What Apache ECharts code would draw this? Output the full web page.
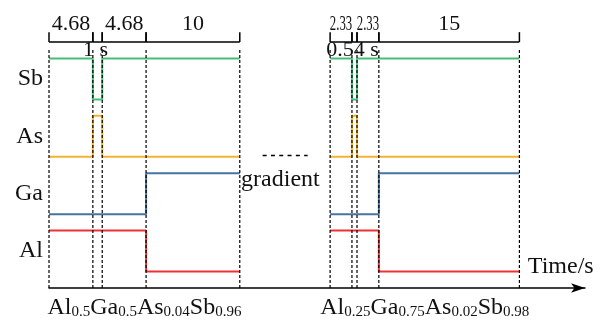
<!DOCTYPE html>
<html>
<head>
<meta charset="utf-8">
<script src="https://cdn.jsdelivr.net/npm/echarts@6/dist/echarts.min.js"></script>
<style>
  html, body { margin: 0; padding: 0; background: #fff; }
  #chart { width: 603px; height: 321px; }
</style>
</head>
<body>
<div id="chart"></div>
<script>
// segment durations (s) of the two growth sequences
const leftDurations = [4.68, 1, 4.68, 10];
const rightDurations = [2.33, 0.54, 2.33, 15];
const sectionStarts = [0, 30];

// shutter state per segment, 1 = open
const channels = ['Al', 'Ga', 'As', 'Sb'];
const alStates = [1, 1, 1, 0];
const gaStates = [0, 0, 0, 1];
const asStates = [0, 1, 0, 0];
const sbStates = [1, 0, 1, 1];

// layer names under each sequence: element, fraction, element, fraction ...
const leftLayer = ['Al', '0.5', 'Ga', '0.5', 'As', '0.04', 'Sb', '0.96'];
const rightLayer = ['Al', '0.25', 'Ga', '0.75', 'As', '0.02', 'Sb', '0.98'];

const gapText = 'gradient';
const axisName = 'Time/s';

// ---- layout / style ----
const FONT = 'Liberation Serif';
const colors = { Al: '#ec3234', Ga: '#46739f', As: '#f4b433', Sb: '#45bd74' };
const stateLists = { Al: alStates, Ga: gaStates, As: asStates, Sb: sbStates };
const levelBase = 0.4, levelStep = 1.4; // y units per channel
const bracketY = 6.0;
const dashTop = 5.85;

function bounds(start, durs) {
  const b = [start];
  durs.forEach(d => b.push(+(b[b.length - 1] + d).toFixed(2)));
  return b;
}
const sections = [
  { durs: leftDurations, b: bounds(sectionStarts[0], leftDurations), layer: leftLayer },
  { durs: rightDurations, b: bounds(sectionStarts[1], rightDurations), layer: rightLayer }
];
const sectionMids = sections.map(s => (s.b[0] + s.b[s.b.length - 1]) / 2);

let chart = echarts.init(document.getElementById('chart'));

const series = [];
// shutter lines
channels.forEach((ch, i) => {
  const base = levelBase + i * levelStep;
  sections.forEach(sec => {
    const st = stateLists[ch];
    const data = st.map((v, k) => [sec.b[k], base + v]);
    data.push([sec.b[sec.b.length - 1], base + st[st.length - 1]]);
    series.push({
      type: 'line',
      step: 'end',
      data: data,
      showSymbol: false,
      silent: true,
      lineStyle: { color: colors[ch], width: 2 },
      z: 2
    });
  });
});

// dashed boundaries
const boundaryData = [];
sections.forEach(sec => sec.b.forEach(x => boundaryData.push([x])));
series.push({
  type: 'custom',
  data: boundaryData,
  silent: true,
  z: 5,
  renderItem: (params, api) => {
    const p0 = api.coord([api.value(0), 0]);
    const p1 = api.coord([api.value(0), dashTop]);
    return {
      type: 'line',
      shape: { x1: p0[0], y1: p0[1], x2: p1[0], y2: p1[1] },
      style: { stroke: '#000', lineWidth: 1.2, lineDash: [3, 2] }
    };
  }
});

// duration brackets on top
const bracketData = [];
sections.forEach(sec => {
  const shortest = Math.min(...sec.durs);
  sec.durs.forEach((d, k) => bracketData.push([sec.b[k], sec.b[k + 1], d, d === shortest ? 1 : 0]));
});
series.push({
  type: 'custom',
  data: bracketData,
  silent: true,
  z: 6,
  renderItem: (params, api) => {
    const a = api.coord([api.value(0), bracketY]);
    const b = api.coord([api.value(1), bracketY]);
    const tickTop = api.coord([0, bracketY + 0.24])[1];
    const pulse = api.value(3) === 1;
    const w = b[0] - a[0];
    const ln = { stroke: '#000', lineWidth: 1.5 };
    const children = [
      { type: 'line', shape: { x1: a[0], y1: a[1], x2: b[0], y2: b[1] }, style: ln },
      { type: 'line', shape: { x1: a[0], y1: a[1], x2: a[0], y2: tickTop }, style: ln },
      { type: 'line', shape: { x1: b[0], y1: b[1], x2: b[0], y2: tickTop }, style: ln }
    ];
    const cx = (a[0] + b[0]) / 2;
    const label = String(api.value(2));
    if (pulse) {
      children.push({
        type: 'text', x: cx - 2, y: api.coord([0, bracketY - 0.2])[1],
        style: { text: label + ' s', font: '22px ' + FONT, fill: '#111', align: 'center', verticalAlign: 'middle' }
      });
    } else {
      children.push({
        type: 'text', x: cx, y: api.coord([0, bracketY + 0.44])[1],
        scaleX: w < 30 ? 0.58 : 1,
        style: { text: label, font: '22px ' + FONT, fill: '#111', align: 'center', verticalAlign: 'middle' }
      });
    }
    return { type: 'group', children: children };
  }
});

// "gradient" continuation between the sequences
series.push({
  type: 'line',
  data: [[22.8, 3.23], [27.6, 3.23]],
  showSymbol: false,
  silent: true,
  lineStyle: { color: '#000', width: 1.5, type: [4, 4.3] }
});
const notes = [
  { text: gapText, x: 20.5, y: 2.63, align: 'left' },
  { text: axisName, x: 51.1, y: 0.52, align: 'left' }
];
series.push({
  type: 'custom',
  data: notes.map((n, i) => [n.x, n.y, i]),
  silent: true,
  z: 7,
  renderItem: (params, api) => {
    const n = notes[api.value(2)];
    const p = api.coord([api.value(0), api.value(1)]);
    return {
      type: 'text', x: p[0], y: p[1],
      style: { text: n.text, font: '24px ' + FONT, fill: '#111', align: n.align, verticalAlign: 'middle' }
    };
  }
});

const channelMids = channels.map((c, i) => levelBase + i * levelStep + 0.5);

chart.setOption({
  animation: false,
  textStyle: { fontFamily: FONT },
  grid: { left: 49, right: 18, top: 1, bottom: 33, outerBoundsMode: 'none' },
  xAxis: {
    type: 'value',
    min: 0,
    max: 57.2,
    splitLine: { show: false },
    axisTick: { show: false },
    axisLine: {
      symbol: ['none', 'arrow'],
      symbolSize: [7, 14],
      lineStyle: { color: '#000', width: 1.5 }
    },
    axisLabel: {
      customValues: sectionMids,
      margin: 7,
      formatter: v => {
        let idx = sectionMids.findIndex(m => Math.abs(m - v) < 1e-6);
        if (idx < 0) return '';
        return sections[idx].layer.map((p, k) => (k % 2 ? '{s|' + p + '}' : '{m|' + p + '}')).join('');
      },
      rich: {
        m: { fontSize: 24, fontFamily: FONT, color: '#111' },
        s: { fontSize: 15, fontFamily: FONT, color: '#111', padding: [10, 0, 0, 0] }
      }
    }
  },
  yAxis: {
    type: 'value',
    min: 0,
    max: 7,
    splitLine: { show: false },
    axisTick: { show: false },
    axisLine: { show: false },
    axisLabel: {
      customValues: channelMids,
      margin: 6,
      fontSize: 24,
      fontFamily: FONT,
      color: '#111',
      formatter: v => {
        let idx = channelMids.findIndex(m => Math.abs(m - v) < 1e-6);
        return idx < 0 ? '' : channels[idx];
      }
    }
  },
  series: series
});
</script>
</body>
</html>
